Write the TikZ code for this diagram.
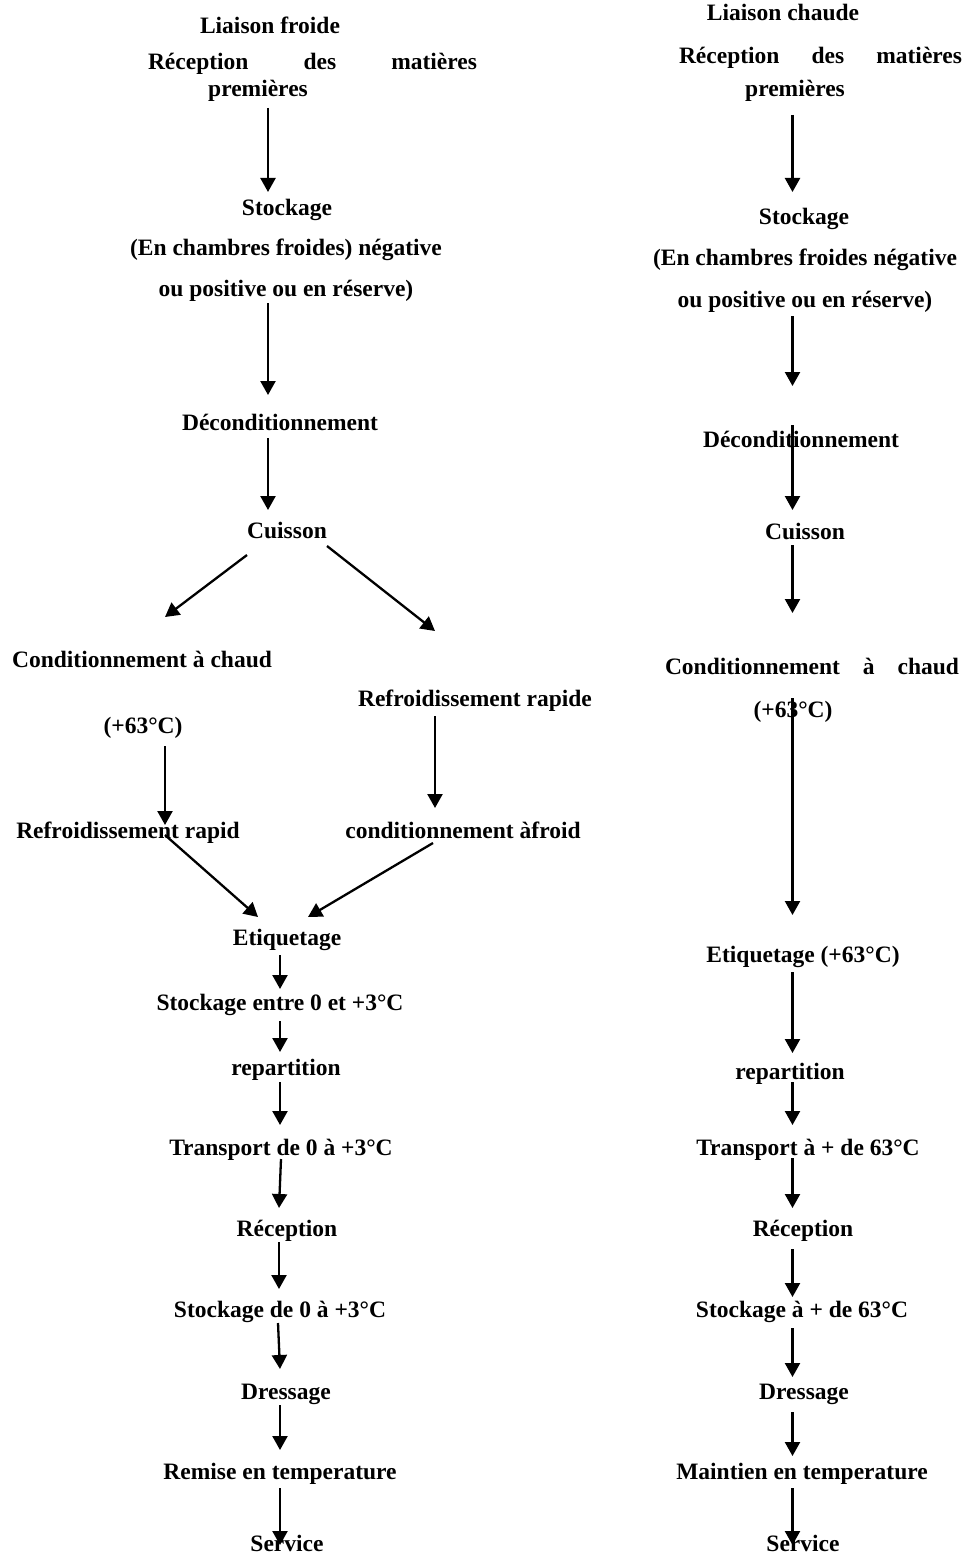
\documentclass[tikz,border=0pt]{standalone}
\usepackage{fontspec}
\setmainfont{Liberation Serif}
\usetikzlibrary{arrows.meta,calc}

\tikzset{
  lbl/.style={anchor=base, inner sep=0pt, outer sep=0pt,
              font=\fontsize{23.5pt}{28pt}\selectfont\bfseries},
  lblw/.style={lbl, anchor=base west},
  arr/.style={line width=2.3pt, -{Triangle[width=15pt,length=14pt]}}
}

\begin{document}
\begin{tikzpicture}[x=1pt, y=-1pt]
\useasboundingbox (0,0) rectangle (965,1557);

% arrow columns
\coordinate (cA) at (268,0);
\coordinate (cB) at (280,0);
\coordinate (cC) at (165,0);
\coordinate (cD) at (435,0);
\coordinate (cR) at (792.5,0);

% ---------- Liaison froide ----------
\node[lbl]  (lf)    at (270,34)   {Liaison froide};
\node[lblw] (recL)  at (148,70)   {\hbox to 329pt{Réception\hfill des\hfill matières}};
\node[lbl]  (premL) at (258,97)   {premières};
\node[lbl]  (stoL)  at (287,215)  {Stockage};
\node[lbl]  (stoL2) at (286,255)  {(En chambres froides) négative};
\node[lbl]  (stoL3) at (286,296)  {ou positive ou en réserve)};
\node[lbl]  (decL)  at (280,430)  {Déconditionnement};
\node[lbl]  (cuiL)  at (287,538)  {Cuisson};
\node[lbl]  (cacL)  at (142,667)  {Conditionnement à chaud};
\node[lbl]  (rrL)   at (475,706)  {Refroidissement rapide};
\node[lbl]  (t63L)  at (143,733)  {(+63°C)};
\node[lbl]  (rr2L)  at (128,838)  {Refroidissement rapid};
\node[lbl]  (cafL)  at (463,838)  {conditionnement àfroid};
\node[lbl]  (etiL)  at (287,945)  {Etiquetage};
\node[lbl]  (s03L)  at (280,1010) {Stockage entre 0 et +3°C};
\node[lbl]  (repL)  at (286,1075) {repartition};
\node[lbl]  (traL)  at (281,1155) {Transport de 0 à +3°C};
\node[lbl]  (recL3) at (287,1236) {Réception};
\node[lbl]  (stoL4) at (280,1317) {Stockage de 0 à +3°C};
\node[lbl]  (dreL)  at (286,1399) {Dressage};
\node[lbl]  (remL)  at (280,1479) {Remise en temperature};
\node[lbl]  (serL)  at (287,1551) {Service};

\draw[arr] ($(premL.base -| cA)+(0,11)$) -- ($(stoL.base -| cA)+(0,-23)$);
\draw[arr] ($(stoL3.base -| cA)+(0,7)$)  -- ($(decL.base -| cA)+(0,-35)$);
\draw[arr] ($(decL.base -| cA)+(0,8)$)   -- ($(cuiL.base -| cA)+(0,-28)$);
\draw[arr] ($(cuiL.base)+(-40,17)$)      -- ($(cacL.base)+(23,-50)$);
\draw[arr] ($(cuiL.base)+(40,8)$)        -- ($(rrL.base)+(-40,-75)$);
\draw[arr] ($(t63L.base -| cC)+(0,13)$)  -- ($(rr2L.base -| cC)+(0,-13)$);
\draw[arr] ($(rrL.base -| cD)+(0,10)$)   -- ($(cafL.base -| cD)+(0,-30)$);
\draw[arr] ($(rr2L.base)+(37,-3)$)       -- ($(etiL.base)+(-29,-28)$);
\draw[arr] ($(cafL.base)+(-30,5)$)       -- ($(etiL.base)+(21,-28)$);
\draw[arr] ($(etiL.base -| cB)+(0,10)$)  -- ($(s03L.base -| cB)+(0,-21)$);
\draw[arr] ($(s03L.base -| cB)+(0,11)$)  -- ($(repL.base -| cB)+(0,-23)$);
\draw[arr] ($(repL.base -| cB)+(0,7)$)   -- ($(traL.base -| cB)+(0,-30)$);
\draw[arr] ($(traL.base)+(0,4)$)         -- ($(recL3.base)+(-8,-28)$);
\draw[arr] ($(recL3.base)+(-8,6)$)       -- ($(stoL4.base)+(-1,-28)$);
\draw[arr] ($(stoL4.base)+(-2,6)$)       -- ($(dreL.base)+(-6,-30)$);
\draw[arr] ($(dreL.base -| cB)+(0,6)$)   -- ($(remL.base -| cB)+(0,-29)$);
\draw[arr] ($(remL.base -| cB)+(0,9)$)   -- ($(serL.base -| cB)+(0,-6)$);

% ---------- Liaison chaude ----------
\node[lbl]  (lc)    at (783,21)   {Liaison chaude};
\node[lblw] (recR)  at (679,64)   {\hbox to 283pt{Réception\hfill des\hfill matières}};
\node[lbl]  (premR) at (795,97)   {premières};
\node[lbl]  (stoR)  at (804,224)  {Stockage};
\node[lbl]  (stoR2) at (805,265)  {(En chambres froides négative};
\node[lbl]  (stoR3) at (805,307)  {ou positive ou en réserve)};
\node[lbl]  (decR)  at (801,447)  {Déconditionnement};
\node[lbl]  (cuiR)  at (805,539)  {Cuisson};
\node[lblw] (cacR)  at (665,674)  {\hbox to 294pt{Conditionnement\hfill à\hfill chaud}};
\node[lbl]  (t63R)  at (793,717)  {(+63°C)};
\node[lbl]  (etiR)  at (803,962)  {Etiquetage (+63°C)};
\node[lbl]  (repR)  at (790,1079) {repartition};
\node[lbl]  (traR)  at (808,1155) {Transport à + de 63°C};
\node[lbl]  (recR2) at (803,1236) {Réception};
\node[lbl]  (stoR4) at (802,1317) {Stockage à + de 63°C};
\node[lbl]  (dreR)  at (804,1399) {Dressage};
\node[lbl]  (maiR)  at (802,1479) {Maintien en temperature};
\node[lbl]  (serR)  at (803,1551) {Service};

\draw[arr] ($(premR.base -| cR)+(0,18)$) -- ($(stoR.base -| cR)+(0,-32)$);
\draw[arr] ($(stoR3.base -| cR)+(0,9)$)  -- ($(decR.base -| cR)+(0,-61)$);
\draw[arr] ($(decR.base -| cR)+(0,-22)$) -- ($(cuiR.base -| cR)+(0,-29)$);
\draw[arr] ($(cuiR.base -| cR)+(0,6)$)   -- ($(cacR.base -| cR)+(0,-61)$);
\draw[arr] ($(t63R.base -| cR)+(0,-19)$) -- ($(etiR.base -| cR)+(0,-47)$);
\draw[arr] ($(etiR.base -| cR)+(0,10)$)  -- ($(repR.base -| cR)+(0,-26)$);
\draw[arr] ($(repR.base -| cR)+(0,3)$)   -- ($(traR.base -| cR)+(0,-30)$);
\draw[arr] ($(traR.base -| cR)+(0,3)$)   -- ($(recR2.base -| cR)+(0,-28)$);
\draw[arr] ($(recR2.base -| cR)+(0,13)$) -- ($(stoR4.base -| cR)+(0,-20)$);
\draw[arr] ($(stoR4.base -| cR)+(0,11)$) -- ($(dreR.base -| cR)+(0,-22)$);
\draw[arr] ($(dreR.base -| cR)+(0,13)$)  -- ($(maiR.base -| cR)+(0,-23)$);
\draw[arr] ($(maiR.base -| cR)+(0,9)$)   -- ($(serR.base -| cR)+(0,-6)$);
\end{tikzpicture}
\end{document}
